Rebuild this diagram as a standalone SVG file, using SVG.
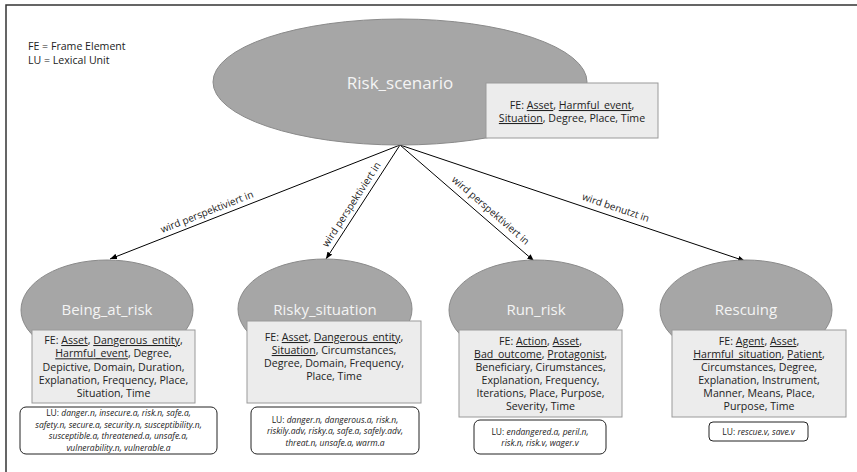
<svg xmlns="http://www.w3.org/2000/svg" width="857" height="472" viewBox="0 0 857 472">
<defs>
<marker id="ah" viewBox="0 0 10 10" refX="10" refY="5" markerWidth="7" markerHeight="7" markerUnits="userSpaceOnUse" orient="auto">
<path d="M0,1 L10,5 L0,9 Z" fill="#000"/>
</marker>
<style>
text{font-family:"Open Sans","Noto Sans","DejaVu Sans",sans-serif;}
.frame{stroke:#333;stroke-width:1.5;fill:none;}
.ell{fill:#a6a6a6;stroke:#8a8a8a;stroke-width:1;}
.title{fill:#f4f4f4;font-size:15px;text-anchor:middle;}
.fe{fill:#ececec;stroke:#9a9a9a;stroke-width:1;}
.fet{fill:#222;font-size:10.6px;text-anchor:middle;}
.lu{fill:#fff;stroke:#222;stroke-width:1;}
.lut{fill:#222;font-size:8.5px;text-anchor:middle;}
.it{font-style:italic;}
.u{text-decoration:underline;}
.edge{stroke:#000;stroke-width:1;fill:none;marker-end:url(#ah);}
.lbl{fill:#222;font-size:10px;text-anchor:middle;}
.leg{fill:#222;font-size:10.6px;}
</style>
</defs>
<rect width="857" height="472" fill="#fff"/>
<path class="frame" d="M6,472 V5 H857"/>
<g id="legend">
<text class="leg" x="28" y="50">FE = Frame Element</text>
<text class="leg" x="28" y="64">LU = Lexical Unit</text>
</g>
<g id="connectors">
<line class="edge" x1="400" y1="145" x2="110" y2="259"/>
<line class="edge" x1="400" y1="145" x2="326" y2="259"/>
<line class="edge" x1="400" y1="145" x2="534" y2="261"/>
<line class="edge" x1="400" y1="145" x2="745" y2="261"/>
<text class="lbl" x="208.2" y="215" transform="rotate(-21.5 208.2 215)">wird perspektiviert in</text>
<text class="lbl" x="354.3" y="206.3" transform="rotate(-57 354.3 206.3)">wird perspektiviert in</text>
<text class="lbl" x="488.4" y="213" transform="rotate(40.9 488.4 213)">wird perspektiviert in</text>
<text class="lbl" x="614.7" y="210.8" transform="rotate(18.6 614.7 210.8)">wird benutzt in</text>
</g>
<g id="risk_scenario">
<ellipse class="ell" cx="400" cy="82" rx="187" ry="63"/>
<text class="title" x="400" y="89" style="font-size:17px">Risk_scenario</text>
<rect class="fe" x="486" y="83" width="172" height="55"/>
<text class="fet" x="572" y="109">FE: <tspan class="u">Asset</tspan>, <tspan class="u">Harmful_event</tspan>,</text>
<text class="fet" x="572" y="122"><tspan class="u">Situation</tspan>, Degree, Place, Time</text>
</g>
<g id="being_at_risk">
<ellipse class="ell" cx="107" cy="310" rx="86" ry="50"/>
<text class="title" x="107" y="315">Being_at_risk</text>
<rect class="fe" x="32" y="330" width="163" height="73"/>
<text class="fet" x="113.5" y="344"><tspan>FE: </tspan><tspan class="u">Asset</tspan>, <tspan class="u">Dangerous_entity</tspan>,</text>
<text class="fet" x="113.5" y="357.3"><tspan class="u">Harmful_event</tspan>, Degree,</text>
<text class="fet" x="113.5" y="370.6">Depictive, Domain, Duration,</text>
<text class="fet" x="113.5" y="384">Explanation, Frequency, Place,</text>
<text class="fet" x="113.5" y="397.3">Situation, Time</text>
<rect class="lu" x="20" y="407" width="197" height="47" rx="6"/>
<text class="lut" x="118.5" y="416">LU: <tspan class="it">danger.n, insecure.a, risk.n, safe.a,</tspan></text>
<text class="lut it" x="118.5" y="427.5">safety.n, secure.a, security.n, susceptibility.n,</text>
<text class="lut it" x="118.5" y="439">susceptible.a, threatened.a, unsafe.a,</text>
<text class="lut it" x="118.5" y="450.5">vulnerability.n, vulnerable.a</text>
</g>
<g id="risky_situation">
<ellipse class="ell" cx="325" cy="309" rx="87" ry="50"/>
<text class="title" x="325" y="315">Risky_situation</text>
<rect class="fe" x="247" y="321" width="174" height="82"/>
<text class="fet" x="334" y="341">FE: <tspan class="u">Asset</tspan>, <tspan class="u">Dangerous_entity</tspan>,</text>
<text class="fet" x="334" y="354"><tspan class="u">Situation</tspan>, Circumstances,</text>
<text class="fet" x="334" y="367">Degree, Domain, Frequency,</text>
<text class="fet" x="334" y="380">Place, Time</text>
<rect class="lu" x="251" y="407" width="168" height="47" rx="6"/>
<text class="lut" x="335" y="422.5">LU: <tspan class="it">danger.n, dangerous.a, risk.n,</tspan></text>
<text class="lut it" x="335" y="434">riskily.adv, risky.a, safe.a, safely.adv,</text>
<text class="lut it" x="335" y="445.5">threat.n, unsafe.a, warm.a</text>
</g>
<g id="run_risk">
<ellipse class="ell" cx="536" cy="310" rx="87" ry="50"/>
<text class="title" x="536" y="315">Run_risk</text>
<rect class="fe" x="459" y="330" width="163" height="87"/>
<text class="fet" x="540.5" y="345">FE: <tspan class="u">Action</tspan>, <tspan class="u">Asset</tspan>,</text>
<text class="fet" x="540.5" y="358"><tspan class="u">Bad_outcome</tspan>, <tspan class="u">Protagonist</tspan>,</text>
<text class="fet" x="540.5" y="371">Beneficiary, Cirumstances,</text>
<text class="fet" x="540.5" y="384">Explanation, Frequency,</text>
<text class="fet" x="540.5" y="397">Iterations, Place, Purpose,</text>
<text class="fet" x="540.5" y="410">Severity, Time</text>
<rect class="lu" x="474" y="420" width="132" height="34" rx="6"/>
<text class="lut" x="540" y="434.5">LU: <tspan class="it">endangered.a, peril.n,</tspan></text>
<text class="lut it" x="540" y="446">risk.n, risk.v, wager.v</text>
</g>
<g id="rescuing">
<ellipse class="ell" cx="746" cy="310" rx="86" ry="50"/>
<text class="title" x="746" y="315">Rescuing</text>
<rect class="fe" x="672" y="330" width="174" height="87"/>
<text class="fet" x="759" y="345">FE: <tspan class="u">Agent</tspan>, <tspan class="u">Asset</tspan>,</text>
<text class="fet" x="759" y="358"><tspan class="u">Harmful_situation</tspan>, <tspan class="u">Patient</tspan>,</text>
<text class="fet" x="759" y="371">Circumstances, Degree,</text>
<text class="fet" x="759" y="384">Explanation, Instrument,</text>
<text class="fet" x="759" y="397">Manner, Means, Place,</text>
<text class="fet" x="759" y="410">Purpose, Time</text>
<rect class="lu" x="709" y="422" width="99" height="19" rx="4"/>
<text class="lut" x="758.5" y="435">LU: <tspan class="it">rescue.v, save.v</tspan></text>
</g>
</svg>
